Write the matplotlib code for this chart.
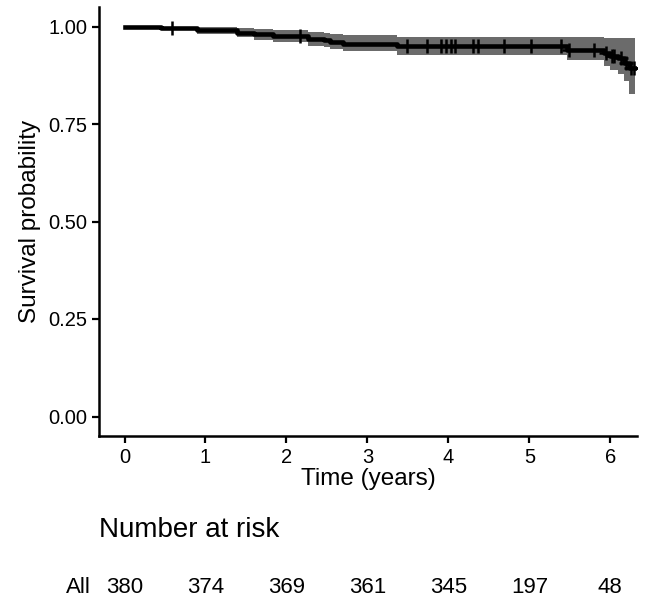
import matplotlib
matplotlib.use("Agg")
import matplotlib.pyplot as plt
import matplotlib.transforms as mtransforms
import numpy as np

plt.rcParams['font.family'] = ['Liberation Sans', 'DejaVu Sans']

# Kaplan-Meier steps
times = [0.0, 0.45, 0.90, 1.39, 1.60, 1.83, 2.27, 2.46, 2.54, 2.70, 3.37,
         5.47, 5.92, 6.00, 6.09, 6.17, 6.23, 6.30]
surv = [1.000, 0.997, 0.990, 0.984, 0.980, 0.975, 0.968, 0.965, 0.961, 0.956,
        0.950, 0.941, 0.932, 0.925, 0.918, 0.907, 0.894, 0.894]
lower = [1.000, 0.992, 0.980, 0.972, 0.966, 0.960, 0.951, 0.947, 0.942, 0.936,
         0.928, 0.915, 0.900, 0.889, 0.877, 0.860, 0.826, 0.826]
upper = [1.000, 1.000, 1.000, 0.997, 0.994, 0.991, 0.986, 0.984, 0.981, 0.978,
         0.974, 0.972, 0.970, 0.970, 0.970, 0.970, 0.970, 0.970]
censor_t = [0.59, 2.17, 3.49, 3.74, 3.91, 3.97, 4.03, 4.08, 4.31, 4.37, 4.69,
            5.02, 5.39, 5.49, 5.80, 5.95, 6.02, 6.05, 6.13, 6.20, 6.26, 6.29]

risk_times = [0, 1, 2, 3, 4, 5, 6]
risk_counts = [380, 374, 369, 361, 345, 197, 48]
y_ticks = [0.0, 0.25, 0.5, 0.75, 1.0]
y_ticklabels = ['0.00', '0.25', '0.50', '0.75', '1.00']

fig = plt.figure(figsize=(6.57, 6.0), dpi=100)
ax = fig.add_axes([99/657, 1-436/600, (637-99)/657, (436-7)/600])

ax.fill_between(times, lower, upper, step='post', color='#6b6b6b', lw=0)
ax.step(times, surv, where='post', color='black', lw=3.3)
# censor marks sit on the curve
idx = np.searchsorted(times, censor_t, side='right') - 1
ax.plot(censor_t, np.array(surv)[idx], ls='none', marker='+', ms=10,
        mew=1.8, color='black')

ax.set_xlim(-0.315, 6.33)
ax.set_ylim(-0.05, 1.05)
ax.set_xticks(risk_times)
ax.set_yticks(y_ticks)
ax.set_yticklabels(y_ticklabels)
ax.tick_params(labelsize=14.5, width=1.6, length=5, color='black',
               labelcolor='black')
for s in ['top', 'right']:
    ax.spines[s].set_visible(False)
for s in ['left', 'bottom']:
    ax.spines[s].set_linewidth(1.8)
ax.set_xlabel('Time (years)', fontsize=17.5, labelpad=1)
ax.set_ylabel('Survival probability', fontsize=17.5, labelpad=5)

# number at risk table
trans = mtransforms.blended_transform_factory(ax.transData, fig.transFigure)
fig.text(99/657, 1-537/600, 'Number at risk', fontsize=20, ha='left',
         va='baseline')
for t, n in zip(risk_times, risk_counts):
    ax.text(t, 1-593/600, str(n), transform=trans, fontsize=16,
            ha='center', va='baseline', clip_on=False)
fig.text(91/657, 1-593/600, 'All', fontsize=16, ha='right', va='baseline')

fig.savefig('out.png', dpi=100)
